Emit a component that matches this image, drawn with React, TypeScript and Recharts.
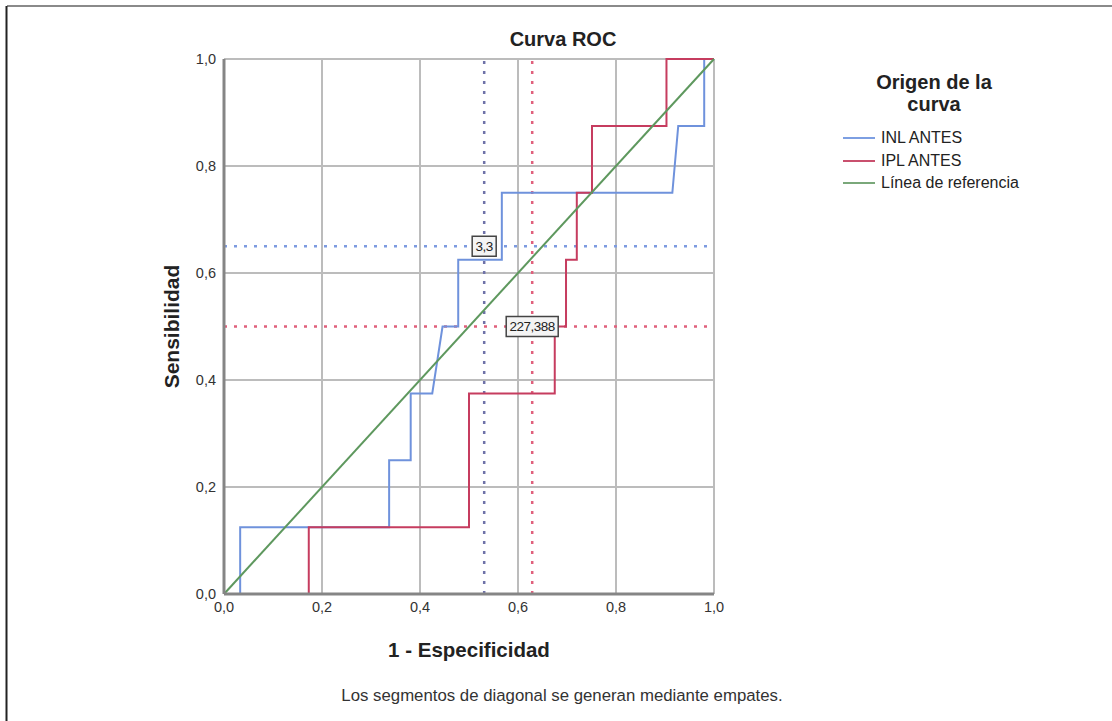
import React from 'react'
import {
  LineChart,
  Line,
  XAxis,
  YAxis,
  CartesianGrid,
  ReferenceLine,
  ReferenceDot,
  Legend,
  Label,
  Customized,
} from 'recharts'

// INL ANTES curve (1 - especificidad, sensibilidad)
const inlX = [0, 0.033, 0.033, 0.337, 0.337, 0.381, 0.381, 0.425, 0.446, 0.478, 0.478, 0.567, 0.567, 0.915, 0.927, 0.98, 0.98, 1]
const inlY = [0, 0, 0.125, 0.125, 0.25, 0.25, 0.375, 0.375, 0.5, 0.5, 0.625, 0.625, 0.75, 0.75, 0.875, 0.875, 1, 1]

// IPL ANTES curve
const iplX = [0, 0.173, 0.173, 0.5, 0.5, 0.675, 0.675, 0.698, 0.698, 0.72, 0.72, 0.751, 0.751, 0.903, 0.903, 1]
const iplY = [0, 0, 0.125, 0.125, 0.375, 0.375, 0.5, 0.5, 0.625, 0.625, 0.75, 0.75, 0.875, 0.875, 1, 1]

// diagonal
const refX = [0, 1]
const refY = [0, 1]

// cut-off points
const inlCut = { x: 0.531, y: 0.65, label: '3,3' }
const iplCut = { x: 0.629, y: 0.5, label: '227,388' }

const ticks = [0, 0.2, 0.4, 0.6, 0.8, 1]

const toPoints = (xs: number[], ys: number[]) => xs.map((x, i) => ({ x, y: ys[i] }))

const series = [
  { name: 'INL ANTES', data: toPoints(inlX, inlY), color: '#6f92dc', legend: '#7d9fe2' },
  { name: 'IPL ANTES', data: toPoints(iplX, iplY), color: '#c63c5f', legend: '#c9506e' },
  { name: 'Línea de referencia', data: toPoints(refX, refY), color: '#5e985e', legend: '#7aa87a' },
]

const font = '"Liberation Sans", Arial, sans-serif'
const fmt = (v: number) => v.toFixed(1).replace('.', ',')

function CutLabel(props: any) {
  const { cx, cy, text } = props
  const w = text.length * 7 + 3
  return (
    <g>
      <rect x={cx - w / 2} y={cy - 10} width={w} height={20} fill="#f4f4f4" stroke="#444" strokeWidth={1.5} />
      <text x={cx} y={cy + 1} textAnchor="middle" dominantBaseline="middle" fontSize={13.5} fill="#222" fontFamily={font} letterSpacing={-0.5}>
        {text}
      </text>
    </g>
  )
}

function LegendBox() {
  return (
    <div style={{ fontFamily: font, color: '#222' }}>
      <div style={{ textAlign: 'center', fontWeight: 'bold', fontSize: 20, lineHeight: '22px' }}>
        Origen de la
        <br />
        curva
      </div>
      <div style={{ marginTop: 12, paddingLeft: 8 }}>
        {series.map(s => (
          <div key={s.name} style={{ display: 'flex', alignItems: 'center', height: 22.5, fontSize: 16 }}>
            <span style={{ display: 'inline-block', width: 32, height: 2, background: s.legend, marginRight: 6 }} />
            {s.name}
          </div>
        ))}
      </div>
    </div>
  )
}

function Decor() {
  return (
    <g fontFamily={font}>
      <line x1={7} y1={6} x2={1112} y2={6} stroke="#8a8a8a" strokeWidth={2} />
      <line x1={6.5} y1={6} x2={6.5} y2={721} stroke="#222" strokeWidth={2} />
      <text x={563} y={41} textAnchor="middle" dominantBaseline="middle" fontSize={20} fontWeight="bold" fill="#222">
        Curva ROC
      </text>
      <text x={562} y={697} textAnchor="middle" dominantBaseline="middle" fontSize={16.8} fill="#333">
        Los segmentos de diagonal se generan mediante empates.
      </text>
    </g>
  )
}

export default function App() {
  return (
    <div style={{ width: 1112, height: 721, background: '#fff' }}>
      <style>{'body{margin:0}'}</style>
      <LineChart width={1112} height={721} margin={{ top: 59, right: 398, bottom: 97, left: 184 }}>
        <CartesianGrid stroke="#bcbcbc" strokeWidth={2} horizontalValues={ticks} verticalValues={ticks} />
        <XAxis
          type="number"
          dataKey="x"
          domain={[0, 1]}
          ticks={ticks}
          tickFormatter={fmt}
          height={30}
          axisLine={{ stroke: '#858585', strokeWidth: 3 }}
          tickLine={false}
          tick={{ fontSize: 14.5, fill: '#333', fontFamily: font }}
        >
          <Label value="1 - Especificidad" position="bottom" offset={18} fontSize={20.5} fontWeight="bold" fill="#222" fontFamily={font} />
        </XAxis>
        <YAxis
          type="number"
          dataKey="y"
          domain={[0, 1]}
          ticks={ticks}
          tickFormatter={fmt}
          width={40}
          axisLine={{ stroke: '#858585', strokeWidth: 3 }}
          tickLine={false}
          tick={{ fontSize: 14.5, fill: '#333', fontFamily: font }}
        >
          <Label value="Sensibilidad" angle={-90} position="center" dx={-32} fontSize={21} fontWeight="bold" fill="#222" fontFamily={font} />
        </YAxis>
        <ReferenceLine x={inlCut.x} stroke="#6f72a8" strokeWidth={2.5} strokeDasharray="3 7" />
        <ReferenceLine y={inlCut.y} stroke="#7d9be0" strokeWidth={2.5} strokeDasharray="3 7" />
        <ReferenceLine x={iplCut.x} stroke="#e0607c" strokeWidth={2.5} strokeDasharray="3 7" />
        <ReferenceLine y={iplCut.y} stroke="#e0607c" strokeWidth={2.5} strokeDasharray="3 7" />
        {series.map(s => (
          <Line
            key={s.name}
            data={s.data}
            dataKey="y"
            name={s.name}
            type="linear"
            stroke={s.color}
            strokeWidth={2}
            dot={false}
            activeDot={false}
            isAnimationActive={false}
          />
        ))}
        <ReferenceDot x={inlCut.x} y={inlCut.y} shape={(p: any) => <CutLabel {...p} text={inlCut.label} />} />
        <ReferenceDot x={iplCut.x} y={iplCut.y} shape={(p: any) => <CutLabel {...p} text={iplCut.label} />} />
        <Legend
          layout="vertical"
          align="center"
          verticalAlign="middle"
          content={() => <LegendBox />}
          wrapperStyle={{ left: 835, top: 71, width: 198, height: 'auto' }}
        />
        <Customized component={Decor} />
      </LineChart>
    </div>
  )
}
